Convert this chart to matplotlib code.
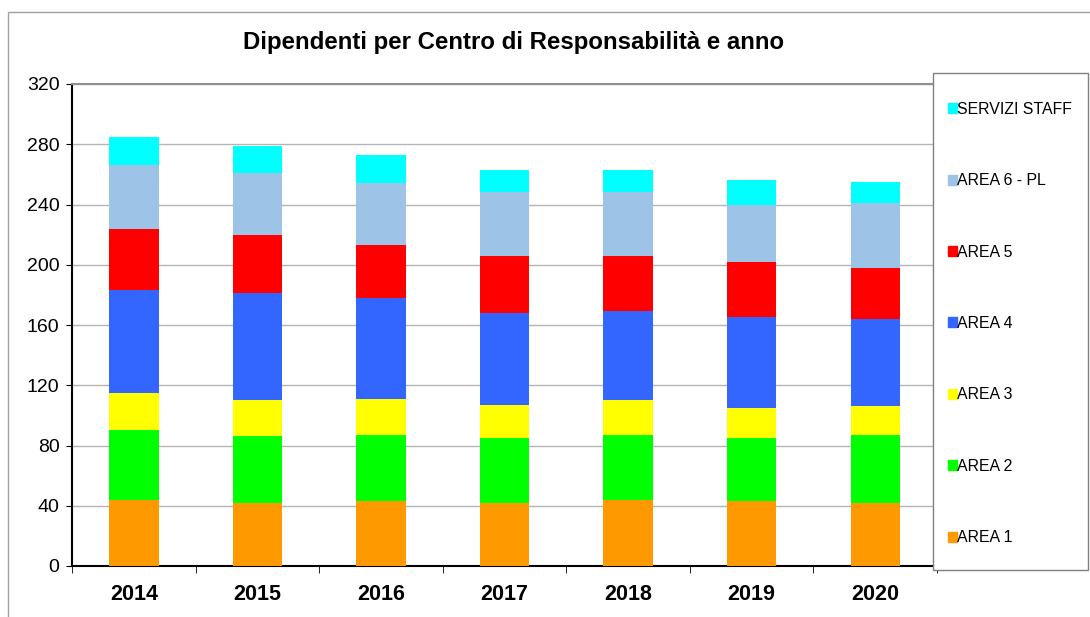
import numpy as np
import matplotlib.pyplot as plt
from matplotlib.patches import Rectangle, Patch

plt.rcParams['font.family'] = ['Liberation Sans', 'DejaVu Sans']

# dati
anni = ['2014', '2015', '2016', '2017', '2018', '2019', '2020']
area1 = [44, 42, 43, 42, 44, 43, 42]
area2 = [46, 44, 44, 43, 43, 42, 45]
area3 = [25, 24, 24, 22, 23, 20, 19]
area4 = [68, 71, 67, 61, 59, 60, 58]
area5 = [41, 39, 35, 38, 37, 37, 34]
area6 = [42, 41, 41, 42, 42, 38, 43]
staff = [19, 18, 19, 15, 15, 16, 14]

serie = [area1, area2, area3, area4, area5, area6, staff]
nomi = ['AREA 1', 'AREA 2', 'AREA 3', 'AREA 4', 'AREA 5', 'AREA 6 - PL', 'SERVIZI STAFF']
colori = ['#FF9900', '#00FF00', '#FFFF00', '#3366FF', '#FF0000', '#9DC3E6', '#00FFFF']

W, H = 1090, 617
fig = plt.figure(figsize=(W/100, H/100), dpi=100)
ax = fig.add_axes([72/W, 1-566/H, 865/W, 482/H])

x = np.arange(len(anni))
base = np.zeros(len(anni))
for s, c, n in zip(serie, colori, nomi):
    ax.bar(x, s, 0.4, bottom=base, color=c, label=n, zorder=3, linewidth=0)
    base += np.array(s)

ax.set_xlim(-0.5, len(anni)-0.5)
ax.set_ylim(0, 320)
ax.set_yticks(np.arange(0, 321, 40))
ax.tick_params(axis='y', labelsize=14, length=4, direction='out', pad=5)
ax.set_xticks(x)
ax.set_xticklabels(anni, fontweight='bold', fontsize=15.5)
ax.set_xticks(np.arange(-0.5, len(anni)), minor=True)
ax.tick_params(axis='x', which='major', length=0, pad=13)
ax.tick_params(axis='x', which='minor', length=5, direction='out')
ax.grid(axis='y', color='#b4b4b4', lw=1, zorder=0)
ax.spines['right'].set_visible(False)
ax.spines['top'].set_color('#909090')
ax.spines['top'].set_linewidth(1.5)
ax.spines['left'].set_linewidth(1.5)
ax.spines['bottom'].set_linewidth(1.5)

fig.text(514/W, 1-42/H, 'Dipendenti per Centro di Responsabilità e anno',
         ha='center', va='center', fontsize=17.3, fontweight='bold')

# bordo esterno
fig.patches.append(Rectangle((8/W, -0.1), 1.2, 1-12/H+0.1, transform=fig.transFigure,
                             fill=False, edgecolor='#a0a0a0', lw=1))
# riquadro legenda
fig.patches.append(Rectangle((933/W, 1-570/H), 155/W, 497/H, transform=fig.transFigure,
                             facecolor='white', edgecolor='#808080', lw=1, zorder=5))
handles = [Patch(color=c) for c in colori][::-1]
leg = fig.legend(handles, nomi[::-1], loc='upper left', bbox_to_anchor=(940/W, 1-94/H),
                 frameon=False, fontsize=11.4, handlelength=0.6, handleheight=0.6,
                 handletextpad=0.0, labelspacing=3.56, borderpad=0)
leg.set_zorder(6)

fig.savefig('out.png', dpi=100)
